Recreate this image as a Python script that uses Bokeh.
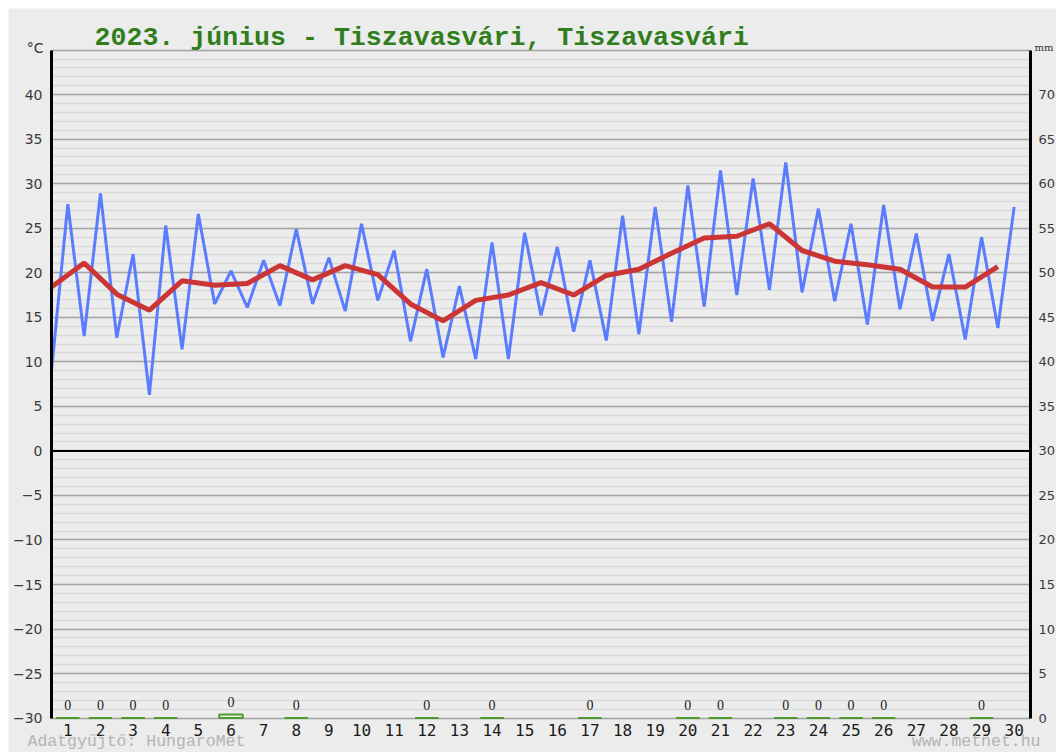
from bokeh.plotting import figure
from bokeh.models import (Range1d, LinearAxis, FixedTicker, SingleIntervalTicker,
                          Label, LabelSet, ColumnDataSource)
from bokeh.embed import file_html
from bokeh.resources import INLINE

# ---- data ----
days = list(range(1, 31))
tmin = [9.0, 12.9, 12.7, 6.3, 11.4, 16.5, 16.1, 16.3, 16.5, 15.7,
        16.9, 12.3, 10.5, 10.3, 10.3, 15.2, 13.4, 12.4, 13.1, 14.5,
        16.2, 17.5, 18.1, 17.8, 16.8, 14.2, 15.9, 14.6, 12.5, 13.8]
tmax = [27.7, 28.9, 22.1, 25.3, 26.6, 20.2, 21.4, 24.9, 21.7, 25.5,
        22.5, 20.4, 18.5, 23.4, 24.5, 22.9, 21.4, 26.4, 27.4, 29.8,
        31.5, 30.6, 32.4, 27.2, 25.5, 27.6, 24.4, 22.1, 24.0, 27.4]
tmean = [18.4, 21.1, 17.6, 15.8, 19.1, 18.6, 18.8, 20.8, 19.2, 20.8,
         19.8, 16.5, 14.6, 16.9, 17.5, 18.9, 17.5, 19.7, 20.4, 22.2,
         23.9, 24.1, 25.5, 22.5, 21.3, 20.9, 20.4, 18.4, 18.4, 20.7]
rain_days = [1, 2, 3, 4, 6, 8, 12, 14, 17, 20, 21, 23, 24, 25, 26, 29]
rain_mm = [0, 0, 0, 0, 0.4, 0, 0, 0, 0, 0, 0, 0, 0, 0, 0, 0]
temp_ticks = list(range(-30, 45, 5))
mm_ticks = list(range(0, 75, 5))
day_labels = [str(d) for d in days]
title_text = "2023. június - Tiszavasvári, Tiszavasvári"
source_text = "Adatgyűjtő: HungaroMet"
site_text = "www.metnet.hu"

T_LO, T_HI = -30, 45      # temperature axis extent
MM_LO, MM_HI = 0, 75      # precipitation axis extent
X_LO, X_HI = 0, len(days)

# ---- layout (page pixels) ----
W, H, M = 1056, 752, 8
PX_L, PX_R = 51.0, 1030.0    # plot area left / right
PX_T, PX_B = 49.6, 717.6     # plot area top / bottom
kx = (PX_R - PX_L) / (X_HI - X_LO)
ky = (PX_B - PX_T) / (T_HI - T_LO)
x_range = Range1d(X_LO - (PX_L - M) / kx, X_HI + (W - PX_R) / kx)
y_range = Range1d(T_LO - (H - PX_B) / ky, T_HI + (PX_T - M) / ky)
mm_range = Range1d(y_range.start - T_LO + MM_LO, y_range.end - T_LO + MM_LO)

BG = "#ececec"

p = figure(width=W, height=H, output_backend="svg", toolbar_location=None,
           x_range=x_range, y_range=y_range,
           min_border_left=M, min_border_top=M, min_border_right=0,
           min_border_bottom=0,
           background_fill_color=BG, border_fill_color="white",
           outline_line_color=None)
p.extra_y_ranges = {"mm": mm_range}

# grid
p.xgrid.visible = False
p.ygrid.ticker = SingleIntervalTicker(interval=5, num_minor_ticks=5)
p.ygrid.bounds = (T_LO, T_HI)
p.ygrid.cross_bounds = (X_LO, X_HI)
p.ygrid.grid_line_color = "#a4a4a4"
p.ygrid.grid_line_width = 1.5
p.ygrid.minor_grid_line_color = "#d9d9d9"
p.ygrid.minor_grid_line_width = 1.5

# left axis
ya = p.yaxis[0]
ya.ticker = FixedTicker(ticks=temp_ticks)
ya.fixed_location = X_LO
ya.bounds = (T_LO, T_HI)
ya.axis_line_color = "black"
ya.axis_line_width = 3
ya.major_tick_line_color = None
ya.minor_tick_line_color = None
ya.major_label_standoff = 3
ya.major_label_text_font = "DejaVu Sans"
ya.major_label_text_font_size = "14px"
ya.major_label_text_color = "#3a3a3a"

# right axis (mm)
ra = LinearAxis(y_range_name="mm", ticker=FixedTicker(ticks=mm_ticks))
ra.fixed_location = X_HI
ra.bounds = (MM_LO, MM_HI)
ra.axis_line_color = "black"
ra.axis_line_width = 3
ra.major_tick_line_color = None
ra.minor_tick_line_color = None
ra.major_label_standoff = 2
ra.major_label_text_font = "DejaVu Sans"
ra.major_label_text_font_size = "13px"
ra.major_label_text_color = "#3a3a3a"
p.add_layout(ra, "right")

# bottom axis (days)
xa = p.xaxis[0]
xa.ticker = FixedTicker(ticks=[d - 0.5 for d in days])
xa.major_label_overrides = {d - 0.5: lab for d, lab in zip(days, day_labels)}
xa.fixed_location = T_LO
xa.bounds = (X_LO, X_HI)
xa.axis_line_color = None
xa.major_tick_line_color = None
xa.minor_tick_line_color = None
xa.major_label_standoff = 0
xa.major_label_text_font = "DejaVu Sans Mono"
xa.major_label_text_font_size = "16px"
xa.major_label_text_color = "#1a1a1a"

# zero line
p.segment(x0=[X_LO], y0=[0], x1=[X_HI], y1=[0], line_color="black", line_width=2)

# rain bars
rsrc = ColumnDataSource(dict(x=[d - 0.5 for d in rain_days], top=rain_mm,
                             label=[f"{v:.0f}" for v in rain_mm]))
p.vbar(x="x", top="top", bottom=MM_LO, width=0.72, source=rsrc, y_range_name="mm",
       fill_color="#eef2ea", line_color="#4e9a2e", line_width=2)
p.add_layout(LabelSet(x="x", y="top", text="label", source=rsrc, y_range_name="mm",
                      text_align="center", text_baseline="alphabetic", y_offset=8,
                      text_font="DejaVu Sans Mono", text_font_size="14px",
                      text_color="#222222"))

# temperature lines
bx, by = [], []
for d, lo, hi in zip(days, tmin, tmax):
    bx += [d - 1, d - 0.5]
    by += [lo, hi]
p.line(bx, by, line_color="#5a7cff", line_width=3)
p.line([d - 1 for d in days], tmean, line_color="#cc3535", line_width=5)

# texts
p.add_layout(Label(x=X_LO, y=T_HI, x_offset=43, y_offset=12.5, text=title_text,
                   text_font="Liberation Mono", text_font_style="bold",
                   text_font_size="26.6px", text_color="#2f7d1c",
                   text_baseline="alphabetic"))
p.add_layout(Label(x=X_LO, y=T_HI, x_offset=-8, y_offset=2, text="°C",
                   text_font="DejaVu Sans", text_font_size="14px",
                   text_color="#333333", text_align="right",
                   text_baseline="alphabetic"))
p.add_layout(Label(x=X_HI, y=T_HI, x_offset=4, y_offset=3, text="mm",
                   text_font="DejaVu Serif", text_font_size="10px",
                   text_color="#333333", text_align="left",
                   text_baseline="alphabetic"))
p.add_layout(Label(x=X_LO, y=T_LO, x_offset=-24, y_offset=-23, text=source_text,
                   text_font="Liberation Mono", text_font_size="16.5px",
                   text_color="#b4b4b4", text_baseline="alphabetic"))
p.add_layout(Label(x=X_HI, y=T_LO, x_offset=10, y_offset=-23, text=site_text,
                   text_font="Liberation Mono", text_font_size="16.5px",
                   text_color="#b4b4b4", text_align="right",
                   text_baseline="alphabetic"))

open("out.html", "w").write(file_html(p, INLINE))
